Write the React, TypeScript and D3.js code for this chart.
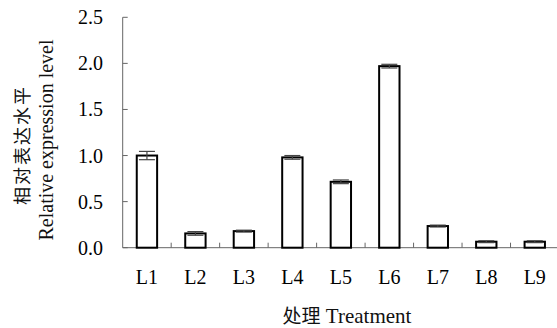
import React from "react";
import * as d3 from "d3";

const categories = ["L1", "L2", "L3", "L4", "L5", "L6", "L7", "L8", "L9"];
const values = [1.0, 0.155, 0.18, 0.98, 0.715, 1.97, 0.235, 0.065, 0.065];
const errors = [0.045, 0.02, 0.01, 0.02, 0.02, 0.02, 0.01, 0.01, 0.01];
const yTicks = [0, 0.5, 1.0, 1.5, 2.0, 2.5];

const W = 557;
const H = 328;
const left = 122.7;
const right = 559;
const top = 17.3;
const bottom = 247.7;
const font = "Liberation Serif";
const cjk = "Noto Sans CJK SC";

export default function App() {
  const x = d3.scaleBand<string>().domain(categories).range([left, right]).paddingInner(0.58).paddingOuter(0.29);
  const xb = d3.scaleBand<string>().domain(categories).range([left, right]);
  const y = d3.scaleLinear().domain([0, 2.5]).range([bottom, top]);
  const bw = x.bandwidth();
  const axisColor = "#666";
  return (
    <svg width={W} height={H} style={{ position: "absolute", left: 0, top: 0, background: "#fff" }}>
      <rect width={W} height={H} fill="#fff" />
      <line x1={left} x2={left} y1={top} y2={bottom} stroke={axisColor} strokeWidth={1} />
      {yTicks.map((t) => (
        <g key={t}>
          <line x1={left} x2={left + 5} y1={y(t)} y2={y(t)} stroke={axisColor} />
          <text x={103} y={y(t)} dy="0.35em" textAnchor="end" fontFamily={font} fontSize={20} fill="#000">
            {d3.format(".1f")(t)}
          </text>
        </g>
      ))}
      <line x1={left} x2={W} y1={bottom} y2={bottom} stroke={axisColor} strokeWidth={1} />
      {categories.slice(1).map((c) => (
        <line key={c} x1={xb(c)!} x2={xb(c)!} y1={bottom} y2={bottom - 5} stroke={axisColor} />
      ))}
      {categories.map((c, i) => {
        const cx = x(c)! + bw / 2;
        return (
          <g key={c}>
            <rect x={x(c)!} y={y(values[i])} width={bw} height={bottom - y(values[i])} fill="#fff" stroke="#000" strokeWidth={2} />
            <g stroke="#444" strokeWidth={1.2}>
              <line x1={cx} x2={cx} y1={y(values[i] + errors[i])} y2={y(values[i] - errors[i])} />
              <line x1={cx - 8} x2={cx + 8} y1={y(values[i] + errors[i])} y2={y(values[i] + errors[i])} />
              <line x1={cx - 8} x2={cx + 8} y1={y(values[i] - errors[i])} y2={y(values[i] - errors[i])} />
            </g>
            <text x={cx} y={284} textAnchor="middle" fontFamily={font} fontSize={20} fill="#000">
              {c}
            </text>
          </g>
        );
      })}
      <text x={347} y={323} textAnchor="middle" fill="#111">
        <tspan fontFamily={cjk} fontSize={19}>处理</tspan>
        <tspan fontFamily={font} fontSize={21}> Treatment</tspan>
      </text>
      <text transform={`translate(29,145) rotate(-90)`} textAnchor="middle" fontFamily={cjk} fontSize={18} fill="#111" letterSpacing={2}>
        相对表达水平
      </text>
      <text transform={`translate(53,140) rotate(-90)`} textAnchor="middle" fontFamily={font} fontSize={20} fill="#111">
        Relative expression level
      </text>
    </svg>
  );
}
